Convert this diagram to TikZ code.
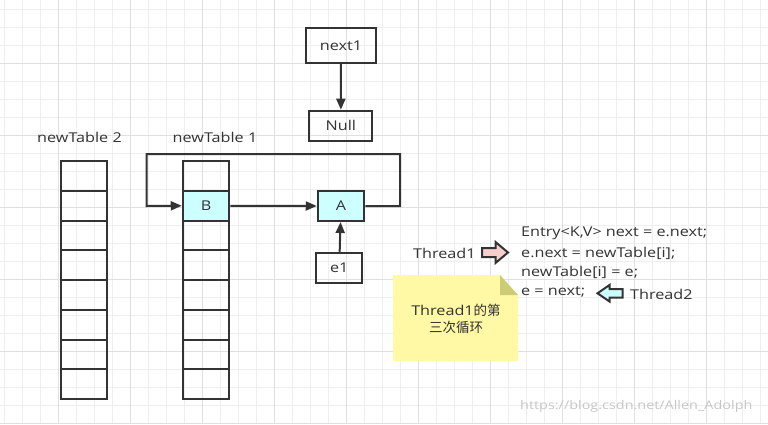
\documentclass[tikz,border=0pt]{standalone}
\usepackage{fontspec}
\setmainfont{Open Sans}[FakeStretch=1.2]
\newfontfamily\cjk{Noto Sans CJK SC}
\usetikzlibrary{arrows.meta}
\definecolor{minorg}{HTML}{EFEFEF}
\definecolor{majorg}{HTML}{E0E0E0}
\definecolor{txt}{HTML}{333333}
\definecolor{cyanf}{HTML}{CCFFFF}
\definecolor{pinkf}{HTML}{F8CECC}
\definecolor{notef}{HTML}{FFF9A6}
\definecolor{foldf}{HTML}{CCCC77}
\tikzset{
  box/.style={draw=txt, line width=2pt, text=txt, inner sep=0pt},
  cell/.style={box, minimum width=46.5pt, minimum height=29.75pt},
  arr/.style={draw=txt, line width=2pt, -{Triangle[length=11pt,width=9pt]}},
  lab/.style={text=txt, inner sep=0pt, font=\fontsize{13.5}{17}\selectfont},
  code/.style={text=txt, inner sep=0pt, anchor=west, font=\fontsize{13.5}{17}\selectfont},
}
\begin{document}
\begin{tikzpicture}[x=1pt,y=-1pt]
\useasboundingbox (0,0) rectangle (768,424);
\fill[white] (0,0) rectangle (768,424);
% grid
\foreach \i in {0,...,42} {\draw[minorg, line width=1pt] (4.3+18*\i,0) -- (4.3+18*\i,424);}
\foreach \i in {0,...,23} {\draw[minorg, line width=1pt] (0,9.3+18*\i) -- (768,9.3+18*\i);}
\foreach \i in {-1,...,10} {\draw[majorg, line width=1pt] (58.3+72*\i,0) -- (58.3+72*\i,424);}
\foreach \i in {-1,...,5} {\draw[majorg, line width=1pt] (0,63.3+72*\i) -- (768,63.3+72*\i);}

% next1 / Null
\node[box, minimum width=70pt, minimum height=35pt, lab] (next1) at (341,45.3) {next1};
\node[box, minimum width=63pt, minimum height=30pt, lab] (null) at (340.8,125.7) {Null};
\draw[arr] (next1) -- (null);

% labels
\node[lab] (nt2) at (79.5,137) {newTable 2};
\node[lab] (nt1) at (215,137) {newTable 1};

% table 2
\foreach \k in {0,...,7} {
  \node[cell] (tb\k) at (84,176+29.75*\k) {};
}
% table 1
\foreach \k in {0,...,7} {
  \node[cell] (ta\k) at (206,176+29.75*\k) {};
}
\node[cell, fill=cyanf, lab] (B) at (206,205.75) {B};

% A and e1
\node[box, fill=cyanf, minimum width=46.5pt, minimum height=30pt, lab] (A) at (341,206) {A};
\node[box, minimum width=46.5pt, minimum height=30.5pt, lab] (e1) at (339.2,268) {e1};
\draw[arr] (e1) -- (A);
\draw[arr] (B.east) -- (A.west);
\coordinate (c1) at (400,206);
\coordinate (c2) at (400,154);
\coordinate (c3) at (146.7,154);
\coordinate (c4) at (146.7,206);
\draw[arr] (A.east) -- (c1) -- (c2) -- (c3) -- (c4) -- (B.west);

% code
\node[code] (l1) at (521,233.5) {Entry<K,V> next = e.next;};
\node[code] (l2) at (521,253) {e.next = newTable[i];};
\node[code] (l3) at (521,272.5) {newTable[i] = e;};
\node[code] (l4) at (521,292) {e = next;};

% Thread1 arrow
\node[lab, anchor=west] (t1) at (413,253) {Thread1};
\draw[txt, line width=2pt, fill=pinkf, line join=miter]
  (482,248) -- (495.5,248) -- (495.5,242) -- (508,252.5) -- (495.5,263) -- (495.5,257) -- (482,257) -- cycle;
% Thread2 arrow
\node[lab, anchor=west] (t2) at (630,294) {Thread2};
\draw[txt, line width=2pt, fill=cyanf, line join=miter]
  (622.5,289) -- (609.5,289) -- (609.5,285) -- (597.5,293.3) -- (609.5,301.5) -- (609.5,297.5) -- (622.5,297.5) -- cycle;

% note
\fill[notef] (393,275) -- (500,275) -- (518,295) -- (518,361) -- (393,361) -- cycle;
\fill[foldf] (500,275) -- (518,295) -- (500,295) -- cycle;
\node[lab, align=center] (note) at (456,318.5) {Thread1{\cjk 的第}\\{\cjk 三次循环}};

% watermark
\node[inner sep=0pt, anchor=west, text=black!22, font=\fontsize{12}{15}\selectfont] (wm) at (520,406) {https://blog.csdn.net/Allen\_Adolph};
\end{tikzpicture}
\end{document}
